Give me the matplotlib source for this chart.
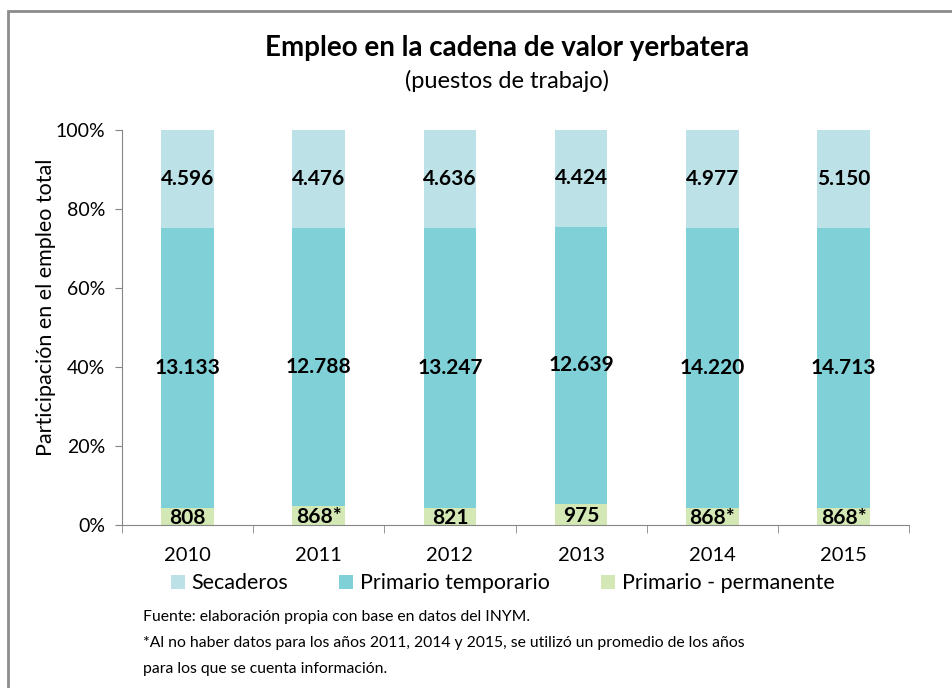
import numpy as np
import matplotlib.pyplot as plt
from matplotlib.patches import Rectangle

# Data
years = ['2010', '2011', '2012', '2013', '2014', '2015']
permanente = [808, 868, 821, 975, 868, 868]
temporario = [13133, 12788, 13247, 12639, 14220, 14713]
secaderos = [4596, 4476, 4636, 4424, 4977, 5150]
estimado = [False, True, False, False, True, True]

plt.rcParams['font.family'] = ['Lato', 'DejaVu Sans']

c_sec = '#BCE2E8'
c_tem = '#80D0D8'
c_per = '#D3E8B4'

perm = np.array(permanente, dtype=float)
temp = np.array(temporario, dtype=float)
sec = np.array(secaderos, dtype=float)
total = perm + temp + sec
p_perm = perm / total * 100
p_temp = temp / total * 100
p_sec = sec / total * 100


def fmt(v):
    return f'{v:,}'.replace(',', '.')


fig = plt.figure(figsize=(9.52, 6.88), dpi=100)
ax = fig.add_axes([0.128, 0.237, 0.827, 0.574])

x = np.arange(len(years))
w = 0.4
ax.bar(x, p_perm, w, color=c_per, label='Primario - permanente')
ax.bar(x, p_temp, w, bottom=p_perm, color=c_tem, label='Primario temporario')
ax.bar(x, p_sec, w, bottom=p_perm + p_temp, color=c_sec, label='Secaderos')

for i in range(len(years)):
    lab = fmt(permanente[i]) + ('*' if estimado[i] else '')
    ax.text(x[i], p_perm[i] / 2 - 0.4, lab, ha='center', va='center',
            fontsize=15, fontweight='bold')
    ax.text(x[i], p_perm[i] + p_temp[i] / 2, fmt(temporario[i]),
            ha='center', va='center', fontsize=15, fontweight='bold')
    ax.text(x[i], p_perm[i] + p_temp[i] + p_sec[i] / 2, fmt(secaderos[i]),
            ha='center', va='center', fontsize=15, fontweight='bold')

ax.set_xlim(-0.5, len(years) - 0.5)
ax.set_ylim(0, 100)
ax.set_yticks(range(0, 101, 20))
ax.set_yticklabels([f'{v}%' for v in range(0, 101, 20)], fontsize=14)
ax.set_xticks(x)
ax.set_xticklabels(years, fontsize=14.5)
ax.set_xticks(np.arange(-0.5, len(years)), minor=True)
ax.tick_params(axis='x', which='major', length=0, pad=16)
ax.tick_params(axis='x', which='minor', length=6, color='#868686')
ax.tick_params(axis='y', length=5, color='#868686', pad=7)
for s in ['top', 'right']:
    ax.spines[s].set_visible(False)
ax.spines['left'].set_color('#868686')
ax.spines['bottom'].set_color('#868686')
ax.set_ylabel('Participación en el empleo total', fontsize=15.5)
ax.yaxis.set_label_coords(-0.084, 0.55)

handles, labels = ax.get_legend_handles_labels()
order = [2, 1, 0]
fig.legend([handles[k] for k in order], [labels[k] for k in order],
           loc='center', bbox_to_anchor=(0.528, 0.152), ncol=3, frameon=False,
           fontsize=15.5, handlelength=0.65, handleheight=0.65,
           handletextpad=0.3, columnspacing=2.4)

fig.text(0.533, 0.93, 'Empleo en la cadena de valor yerbatera',
         ha='center', va='center', fontsize=20, fontweight='bold')
fig.text(0.533, 0.883, '(puestos de trabajo)', ha='center', va='center',
         fontsize=17)

fig.text(0.150, 0.103, 'Fuente: elaboración propia con base en datos del INYM.',
         ha='left', va='center', fontsize=11.3)
fig.text(0.150, 0.065, '*Al no haber datos para los años 2011, 2014 y 2015, se '
         'utilizó un promedio de los años', ha='left', va='center', fontsize=11.3)
fig.text(0.150, 0.027, 'para los que se cuenta información.',
         ha='left', va='center', fontsize=11.3)

# chart area border
fig.add_artist(Rectangle((0.008, -0.1), 1.2, 1.084, transform=fig.transFigure,
                         fill=False, edgecolor='#8C8C8C', linewidth=2))

fig.savefig('out.png', dpi=100)
